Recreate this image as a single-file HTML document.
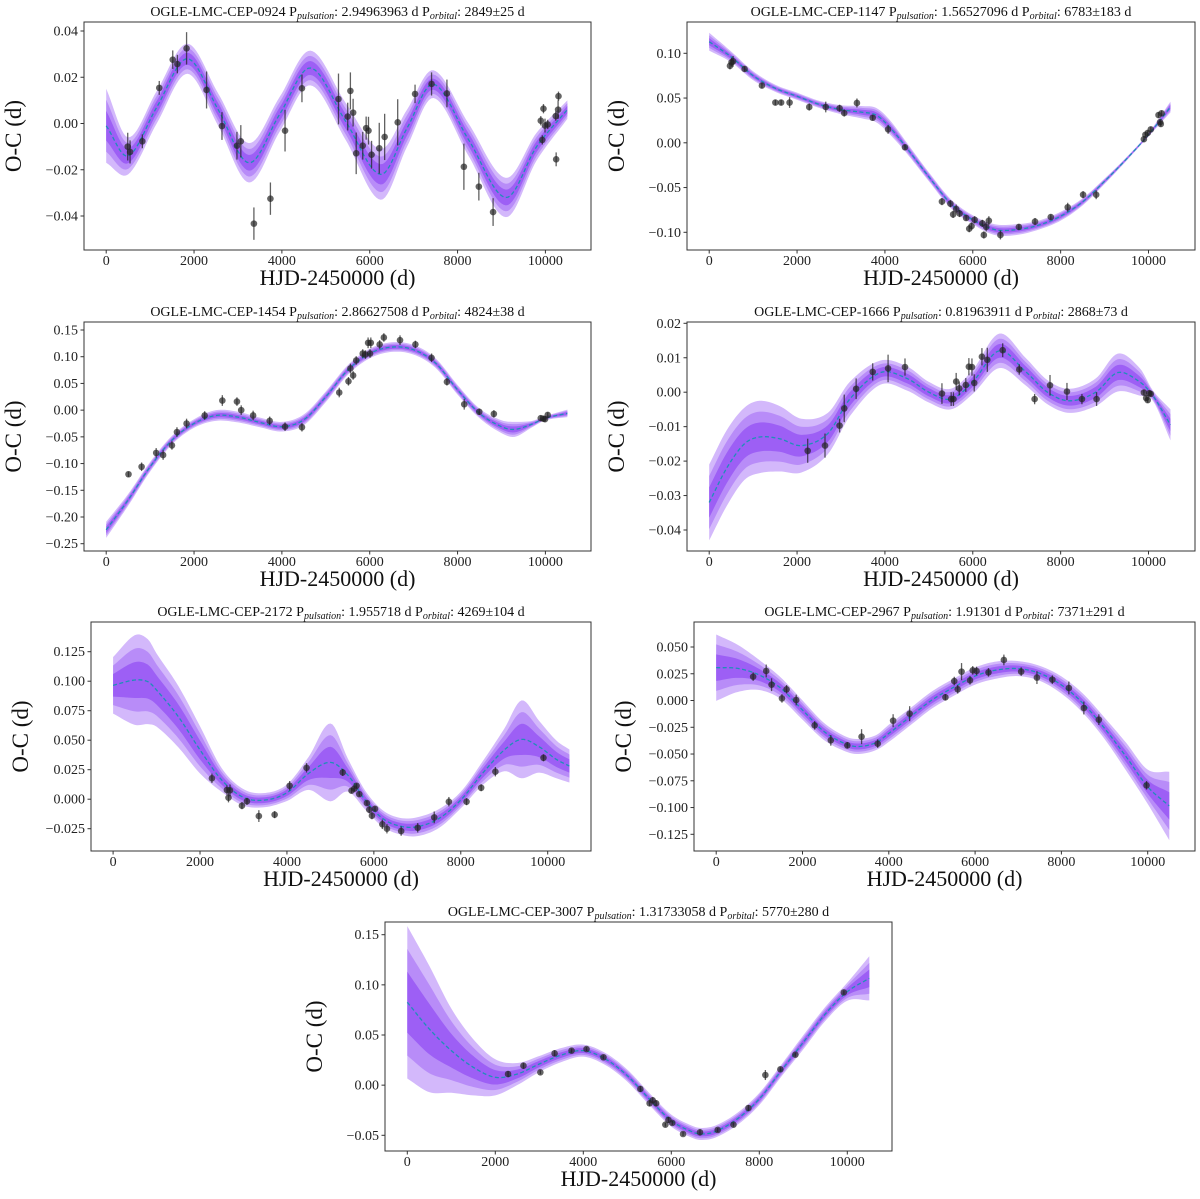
<!DOCTYPE html>
<html><head><meta charset="utf-8">
<style>
html,body{margin:0;padding:0;background:#fff;}
svg{display:block;font-family:"Liberation Serif","DejaVu Serif",serif;}
</style></head>
<body>
<svg id="fig" width="1200" height="1199" viewBox="0 0 1200 1199" xmlns="http://www.w3.org/2000/svg"></svg>
<script>
const xTicks = [0, 2000, 4000, 6000, 8000, 10000];

// Panel 1: OGLE-LMC-CEP-0924
const p1_knotX = [0,500,1150,1850,2550,3250,3950,4650,5450,6250,6850,7450,8250,9100,9800,10500];
const p1_knotY = [-0.001,-0.014,0.007,0.028,0.006,-0.017,0.004,0.024,0.001,-0.022,-0.002,0.017,-0.007,-0.032,-0.010,0.006];
const p1_bandW = [0.016,0.008,0.007,0.0065,0.007,0.0085,0.0075,0.0075,0.008,0.011,0.008,0.006,0.007,0.0085,0.006,0.004];
const p1_ptX = [490,543,823,1208,1515,1620,1830,2285,2636,2977,3065,3363,3739,4072,4457,5289,5499,5560,5622,5692,5841,5919,5972,6042,6217,6340,6637,7032,7408,7758,8144,8485,8809,9895,9956,9930,9991,10053,10236,10245,10289,10298];
const p1_ptY = [-0.010,-0.0123,-0.0077,0.0154,0.0276,0.0257,0.0325,0.0145,-0.0011,-0.0096,-0.0077,-0.0433,-0.0325,-0.0031,0.0152,0.0106,0.0030,0.0141,0.0047,-0.0129,-0.0096,-0.0020,-0.0031,-0.0135,-0.0107,-0.0058,0.0005,0.0128,0.0171,0.0130,-0.0187,-0.0273,-0.0383,0.0012,0.0064,-0.0071,-0.0009,-0.0004,0.0032,-0.0155,0.0060,0.0118];
const p1_ptErr = [0.006,0.005,0.003,0.003,0.004,0.004,0.007,0.008,0.006,0.006,0.007,0.007,0.007,0.009,0.006,0.011,0.006,0.008,0.006,0.009,0.006,0.005,0.006,0.006,0.011,0.010,0.010,0.004,0.005,0.006,0.010,0.006,0.006,0.002,0.002,0.002,0.003,0.002,0.002,0.003,0.004,0.002];
const p1_yTicks = [-0.04,-0.02,0.00,0.02,0.04];

// Panel 2: OGLE-LMC-CEP-1147
const p2_knotX = [0,500,1000,1500,2000,2500,3000,3500,3800,4100,4500,5000,5500,6000,6500,7000,7500,8000,8500,9000,9500,10000,10500];
const p2_knotY = [0.113,0.096,0.075,0.061,0.052,0.043,0.037,0.034,0.031,0.018,-0.006,-0.038,-0.068,-0.086,-0.097,-0.097,-0.092,-0.082,-0.066,-0.043,-0.018,0.009,0.040];
const p2_bandW = [0.010,0.006,0.005,0.004,0.004,0.004,0.005,0.007,0.008,0.008,0.006,0.005,0.005,0.005,0.006,0.006,0.005,0.005,0.004,0.003,0.002,0.002,0.006];
const p2_ptX = [473,508,543,806,1200,1506,1637,1830,2277,2653,2968,3074,3363,3722,4072,4457,5298,5490,5552,5622,5700,5849,5919,5972,6042,6217,6252,6305,6366,6629,7049,7417,7776,8161,8511,8809,9895,9930,9982,10053,10228,10263,10298,10280];
const p2_ptY = [0.086,0.090,0.091,0.0825,0.064,0.045,0.045,0.045,0.040,0.040,0.0386,0.0333,0.0445,0.028,0.015,-0.005,-0.0657,-0.068,-0.080,-0.074,-0.079,-0.084,-0.096,-0.093,-0.086,-0.090,-0.103,-0.094,-0.087,-0.103,-0.094,-0.088,-0.083,-0.072,-0.058,-0.058,0.004,0.009,0.011,0.015,0.031,0.023,0.033,0.021];
const p2_ptErr = [0.004,0.005,0.006,0.003,0.003,0.003,0.003,0.006,0.004,0.006,0.004,0.004,0.005,0.003,0.005,0.003,0.004,0.004,0.004,0.005,0.004,0.003,0.004,0.004,0.004,0.004,0.004,0.005,0.005,0.005,0.003,0.004,0.003,0.005,0.004,0.005,0.003,0.003,0.003,0.003,0.003,0.003,0.003,0.003];
const p2_yTicks = [-0.10,-0.05,0.00,0.05,0.10];

// Panel 3: OGLE-LMC-CEP-1454
const p3_knotX = [0,500,1000,1500,2000,2500,3000,3500,4000,4500,5000,5500,6000,6500,7000,7500,8000,8500,9000,9300,9700,10000,10500];
const p3_knotY = [-0.224,-0.168,-0.106,-0.056,-0.025,-0.010,-0.013,-0.023,-0.031,-0.018,0.025,0.075,0.106,0.118,0.113,0.088,0.038,-0.006,-0.031,-0.036,-0.026,-0.015,-0.006];
const p3_bandW = [0.015,0.011,0.009,0.008,0.008,0.010,0.010,0.009,0.009,0.010,0.010,0.009,0.009,0.009,0.009,0.009,0.009,0.009,0.012,0.014,0.006,0.004,0.007];
const p3_ptX = [508,806,1138,1296,1497,1611,1830,2242,2644,2977,3074,3345,3722,4072,4457,5306,5516,5560,5622,5692,5841,5902,5963,6025,6007,6226,6322,6690,7040,7408,7758,8152,8494,8827,9895,9956,9991,10053];
const p3_ptY = [-0.120,-0.106,-0.080,-0.084,-0.066,-0.041,-0.025,-0.010,0.018,0.016,0.000,-0.010,-0.020,-0.031,-0.032,0.033,0.054,0.078,0.065,0.093,0.106,0.104,0.126,0.126,0.106,0.123,0.136,0.131,0.123,0.098,0.053,0.011,-0.003,-0.007,-0.015,-0.016,-0.017,-0.009];
const p3_ptErr = [0.005,0.008,0.009,0.009,0.008,0.009,0.009,0.008,0.010,0.008,0.009,0.009,0.008,0.008,0.008,0.009,0.008,0.009,0.008,0.008,0.008,0.008,0.010,0.010,0.008,0.008,0.008,0.009,0.007,0.008,0.007,0.010,0.006,0.007,0.005,0.005,0.005,0.005];
const p3_yTicks = [-0.25,-0.20,-0.15,-0.10,-0.05,0.00,0.05,0.10,0.15];

// Panel 4: OGLE-LMC-CEP-1666
const p4_knotX = [0,400,800,1150,1600,2100,2700,3200,3900,4500,5000,5500,6000,6600,7200,7700,8200,8800,9300,9800,10100,10500];
const p4_knotY = [-0.032,-0.022,-0.015,-0.013,-0.0135,-0.0155,-0.012,-0.002,0.0057,0.004,0.0,-0.002,0.003,0.012,0.006,0.000,-0.0025,0.000,0.0057,0.003,-0.001,-0.0095];
const p4_bandW = [0.011,0.011,0.0105,0.0105,0.0095,0.0078,0.006,0.005,0.0035,0.0035,0.003,0.003,0.0035,0.005,0.004,0.0035,0.0035,0.004,0.0055,0.004,0.0015,0.0045];
const p4_ptX = [2242,2636,2968,3074,3345,3722,4072,4457,5298,5508,5560,5622,5692,5841,5911,5981,6033,6208,6331,6681,7058,7408,7758,8144,8485,8818,9895,9947,9982,10018,10053];
const p4_ptY = [-0.0170,-0.0155,-0.0097,-0.0047,0.0010,0.0059,0.0069,0.0073,-0.0004,-0.0020,-0.0020,0.0031,0.0011,0.0021,0.0074,0.0073,0.0027,0.0103,0.0094,0.0122,0.0066,-0.0020,0.0020,0.0002,-0.0020,-0.0020,-0.0001,-0.0017,-0.0023,-0.0003,-0.0005];
const p4_ptErr = [0.0035,0.0035,0.002,0.004,0.003,0.0025,0.004,0.0025,0.003,0.002,0.002,0.0025,0.002,0.002,0.0025,0.0025,0.0025,0.0025,0.0035,0.002,0.0015,0.0015,0.003,0.0025,0.0015,0.002,0.0008,0.0008,0.0008,0.0008,0.0008];
const p4_yTicks = [-0.04,-0.03,-0.02,-0.01,0.00,0.01,0.02];

// Panel 5: OGLE-LMC-CEP-2172
const p5_knotX = [0,500,800,1000,1500,2000,2500,3000,3500,4000,4500,5000,5400,5800,6200,6600,7000,7500,8000,8500,9000,9400,9800,10200,10500];
const p5_knotY = [0.0965,0.101,0.0996,0.0925,0.070,0.0418,0.0162,0.0015,-0.0007,0.0055,0.0219,0.0312,0.0205,-0.0007,-0.0163,-0.0228,-0.0233,-0.0163,-0.0007,0.0219,0.0417,0.0507,0.0445,0.0337,0.0281];
const p5_bandW = [0.024,0.038,0.036,0.031,0.026,0.020,0.010,0.007,0.006,0.007,0.014,0.033,0.014,0.008,0.007,0.007,0.008,0.008,0.007,0.010,0.018,0.033,0.022,0.016,0.014];
const p5_ptX = [2274,2619,2655,2690,2965,3080,3354,3717,4062,4451,5283,5487,5549,5602,5664,5841,5894,5956,6027,6195,6301,6628,7009,7389,7726,8133,8469,8796,9903];
const p5_ptY = [0.0177,0.0078,0.0013,0.0075,-0.0055,-0.0018,-0.0143,-0.0131,0.0114,0.0266,0.0227,0.0072,0.0089,0.0114,0.0043,-0.0033,-0.0089,-0.0140,-0.0081,-0.0213,-0.025,-0.027,-0.0242,-0.0154,-0.0021,-0.0021,0.0097,0.0233,0.0351];
const p5_ptErr = [0.004,0.004,0.004,0.005,0.003,0.003,0.005,0.003,0.004,0.004,0.003,0.002,0.002,0.002,0.002,0.002,0.003,0.003,0.002,0.004,0.004,0.004,0.004,0.005,0.004,0.003,0.003,0.004,0.003];
const p5_yTicks = [-0.025,0.000,0.025,0.050,0.075,0.100,0.125];

// Panel 6: OGLE-LMC-CEP-2967
const p6_knotX = [0,500,1000,1500,2000,2500,3000,3300,3700,4000,4500,5000,5500,6000,6500,7000,7500,8000,8500,9000,9500,10000,10500];
const p6_knotY = [0.0307,0.030,0.0238,0.0114,-0.0089,-0.029,-0.0406,-0.043,-0.0394,-0.0307,-0.0151,0.0005,0.0123,0.0229,0.0285,0.0298,0.0254,0.0145,-0.0026,-0.026,-0.0525,-0.0806,-0.0985];
const p6_bandW = [0.031,0.022,0.014,0.010,0.009,0.008,0.007,0.007,0.007,0.008,0.008,0.008,0.008,0.008,0.008,0.007,0.007,0.008,0.009,0.010,0.013,0.016,0.032];
const p6_ptX = [856,1159,1283,1524,1631,1854,2282,2656,3039,3369,3743,4100,4483,5312,5517,5597,5686,5882,5945,6034,6310,6667,7068,7433,7790,8173,8520,8868,9973];
const p6_ptY = [0.0223,0.0276,0.0148,0.0020,0.0105,0.0005,-0.0232,-0.0372,-0.0419,-0.0338,-0.0403,-0.0188,-0.0123,0.0030,0.0182,0.0105,0.0270,0.0189,0.0282,0.0276,0.0263,0.0379,0.0270,0.0214,0.0195,0.0117,-0.0070,-0.0179,-0.0792];
const p6_ptErr = [0.004,0.006,0.006,0.004,0.004,0.005,0.004,0.005,0.003,0.007,0.004,0.006,0.007,0.003,0.004,0.004,0.008,0.004,0.004,0.004,0.004,0.005,0.004,0.006,0.004,0.006,0.006,0.005,0.004];
const p6_yTicks = [-0.125,-0.100,-0.075,-0.050,-0.025,0.000,0.025,0.050];

// Panel 7: OGLE-LMC-CEP-3007
const p7_knotX = [0,500,1000,1500,2000,2500,3000,3500,4000,4500,5000,5500,6000,6500,6700,7000,7500,8000,8500,9000,9500,10000,10500];
const p7_knotY = [0.0826,0.056,0.0344,0.0178,0.0078,0.0111,0.0211,0.030,0.0344,0.0261,0.0095,-0.0138,-0.0354,-0.047,-0.0487,-0.0463,-0.0337,-0.0138,0.0145,0.0427,0.071,0.0932,0.1065];
const p7_bandW = [0.076,0.063,0.042,0.028,0.018,0.011,0.008,0.007,0.006,0.006,0.006,0.006,0.006,0.006,0.006,0.006,0.006,0.006,0.006,0.007,0.007,0.009,0.022];
const p7_ptX = [2290,2640,3024,3348,3733,4073,4458,5297,5507,5577,5656,5865,5935,6023,6267,6652,7054,7413,7753,8138,8479,8820,9921];
const p7_ptY = [0.0111,0.0194,0.0128,0.0317,0.0344,0.036,0.0278,-0.0038,-0.0181,-0.0151,-0.0181,-0.0394,-0.0347,-0.0377,-0.0487,-0.047,-0.0447,-0.0394,-0.0228,0.0101,0.0158,0.0304,0.0925];
const p7_ptErr = [0.003,0.003,0.002,0.003,0.002,0.002,0.002,0.003,0.003,0.003,0.003,0.002,0.003,0.002,0.002,0.003,0.002,0.002,0.003,0.005,0.002,0.002,0.002];
const p7_yTicks = [-0.05,0.00,0.05,0.10,0.15];

const panels = [
 {name:'0924', ppul:'2.94963963', porb:'2849±25', L:84,R:591,T:22,B:250, x0:106.2,x1:545.4, yv0:-0.04,yp0:216,yv1:0.04,yp1:31, dec:2, kx:p1_knotX,ky:p1_knotY,bw:p1_bandW,px:p1_ptX,py:p1_ptY,pe:p1_ptErr,yt:p1_yTicks},
 {name:'1147', ppul:'1.56527096', porb:'6783±183', L:687,R:1195,T:22,B:250, x0:709.2,x1:1148.5, yv0:-0.10,yp0:232.3,yv1:0.10,yp1:53.3, dec:2, kx:p2_knotX,ky:p2_knotY,bw:p2_bandW,px:p2_ptX,py:p2_ptY,pe:p2_ptErr,yt:p2_yTicks},
 {name:'1454', ppul:'2.86627508', porb:'4824±38', L:84,R:591,T:322,B:551, x0:106.2,x1:545.4, yv0:-0.25,yp0:543.7,yv1:0.15,yp1:330, dec:2, kx:p3_knotX,ky:p3_knotY,bw:p3_bandW,px:p3_ptX,py:p3_ptY,pe:p3_ptErr,yt:p3_yTicks},
 {name:'1666', ppul:'0.81963911', porb:'2868±73', L:687,R:1195,T:322,B:551, x0:709.2,x1:1148.5, yv0:-0.04,yp0:530,yv1:0.02,yp1:323.3, dec:2, kx:p4_knotX,ky:p4_knotY,bw:p4_bandW,px:p4_ptX,py:p4_ptY,pe:p4_ptErr,yt:p4_yTicks},
 {name:'2172', ppul:'1.955718', porb:'4269±104', L:91,R:591,T:622,B:851, x0:113.1,x1:547.7, yv0:-0.025,yp0:828.7,yv1:0.125,yp1:651.7, dec:3, kx:p5_knotX,ky:p5_knotY,bw:p5_bandW,px:p5_ptX,py:p5_ptY,pe:p5_ptErr,yt:p5_yTicks},
 {name:'2967', ppul:'1.91301', porb:'7371±291', L:694,R:1195,T:622,B:851, x0:716.2,x1:1147.7, yv0:-0.125,yp0:834.3,yv1:0.05,yp1:647, dec:3, kx:p6_knotX,ky:p6_knotY,bw:p6_bandW,px:p6_ptX,py:p6_ptY,pe:p6_ptErr,yt:p6_yTicks},
 {name:'3007', ppul:'1.31733058', porb:'5770±280', L:385,R:892,T:922,B:1151, x0:407.3,x1:847.3, yv0:-0.05,yp0:1135.3,yv1:0.15,yp1:934.7, dec:2, kx:p7_knotX,ky:p7_knotY,bw:p7_bandW,px:p7_ptX,py:p7_ptY,pe:p7_ptErr,yt:p7_yTicks}
];

const NS = 'http://www.w3.org/2000/svg';
const fig = document.getElementById('fig');
function mk(tag, attrs, parent){
  const e = document.createElementNS(NS, tag);
  for (const k in attrs) e.setAttribute(k, attrs[k]);
  parent.appendChild(e);
  return e;
}
function interp(xs, ys, x){
  const n = xs.length;
  if (x <= xs[0]) return ys[0];
  if (x >= xs[n-1]) return ys[n-1];
  let i = 0;
  while (i < n-2 && x > xs[i+1]) i++;
  const slope = j => {
    if (j === 0) return (ys[1]-ys[0])/(xs[1]-xs[0]);
    if (j === n-1) return (ys[n-1]-ys[n-2])/(xs[n-1]-xs[n-2]);
    return (ys[j+1]-ys[j-1])/(xs[j+1]-xs[j-1]);
  };
  const h = xs[i+1]-xs[i], t = (x-xs[i])/h;
  const m0 = slope(i)*h, m1 = slope(i+1)*h;
  const t2=t*t, t3=t2*t;
  return (2*t3-3*t2+1)*ys[i] + (t3-2*t2+t)*m0 + (-2*t3+3*t2)*ys[i+1] + (t3-t2)*m1;
}
function fmt(v, dec){
  const s = Math.abs(v).toFixed(dec);
  return (v < -1e-9 ? '\u2212' : '') + s;
}

panels.forEach((p, idx) => {
  const g = mk('g', {}, fig);
  
  
  const sx = v => p.x0 + (v/10000)*(p.x1-p.x0);
  const sy = v => p.yp0 + (v-p.yv0)*(p.yp1-p.yp0)/(p.yv1-p.yv0);
  const clipId = 'clip' + idx;
  const cp = mk('clipPath', {id: clipId}, g);
  mk('rect', {x:p.L, y:p.T, width:p.R-p.L, height:p.B-p.T}, cp);
  const plot = mk('g', {'clip-path':'url(#'+clipId+')'}, g);

  const fr = [1.0, 0.7, 0.4];
  const cols = ['#d3b8fb', '#b88cf8', '#9d5ff5'];
  const bandNames = ['band-3sigma', 'band-2sigma', 'band-1sigma'];
  fr.forEach((f, k) => {
    let up = [], lo = [];
    for (let x = 0; x <= 10500; x += 50){
      const c = interp(p.kx, p.ky, x), w = interp(p.kx, p.bw, x)*f;
      up.push(sx(x).toFixed(2)+','+sy(c+w).toFixed(2));
      lo.push(sx(x).toFixed(2)+','+sy(c-w).toFixed(2));
    }
    const poly = mk('polygon', {points: up.concat(lo.reverse()).join(' '), fill: cols[k], stroke:'none'}, plot);
    
    
  });
  let pts = [];
  for (let x = 0; x <= 10500; x += 50) pts.push(sx(x).toFixed(2)+','+sy(interp(p.kx,p.ky,x)).toFixed(2));
  const line = mk('polyline', {points: pts.join(' '), fill:'none', stroke:'#1f8fb8', 'stroke-width':1.3, 'stroke-dasharray':'4,2.5'}, plot);
  
  
  for (let i = 0; i < p.px.length; i++){
    const cx = sx(p.px[i]), cy = sy(p.py[i]);
    const eb = mk('line', {x1:cx, x2:cx, y1:sy(p.py[i]-p.pe[i]), y2:sy(p.py[i]+p.pe[i]), stroke:'rgba(30,30,30,0.7)', 'stroke-width':1.3}, plot);
    
    
    const c = mk('circle', {cx:cx, cy:cy, r:3.3, fill:'rgba(35,35,35,0.7)'}, plot);
    
    
  }
  const fr2 = mk('rect', {x:p.L, y:p.T, width:p.R-p.L, height:p.B-p.T, fill:'none', stroke:'#333', 'stroke-width':1}, g);
  
  
  xTicks.forEach(t => {
    const x = sx(t);
    mk('line', {x1:x, x2:x, y1:p.B, y2:p.B+3.5, stroke:'#333', 'stroke-width':1}, g);
    const tx = mk('text', {x:x, y:p.B+15, 'font-size':14, 'text-anchor':'middle', fill:'#222'}, g);
    tx.textContent = String(t);
    
    
  });
  p.yt.forEach(t => {
    const y = sy(t);
    mk('line', {x1:p.L-3.5, x2:p.L, y1:y, y2:y, stroke:'#333', 'stroke-width':1}, g);
    const ty = mk('text', {x:p.L-6, y:y+4.5, 'font-size':14, 'text-anchor':'end', fill:'#222'}, g);
    ty.textContent = fmt(t, p.dec);
    
    
  });
  const xl = mk('text', {x:(p.L+p.R)/2, y:p.B+35, 'font-size':22, 'text-anchor':'middle', fill:'#111'}, g);
  xl.textContent = 'HJD-2450000 (d)';
  
  
  const ycx = p.L - 63, ycy = (p.T+p.B)/2;
  const yl = mk('text', {x:ycx, y:ycy, 'font-size':23, 'text-anchor':'middle', fill:'#111', transform:'rotate(-90 '+ycx+' '+ycy+')'}, g);
  yl.textContent = 'O-C (d)';
  
  
  const tt = mk('text', {x:(p.L+p.R)/2, y:p.T-6, 'font-size':14, 'text-anchor':'middle', fill:'#111'}, g);
  
  
  const parts = [
    ['OGLE-LMC-CEP-' + p.name + ' P', null],
    ['pulsation', 'sub'],
    [': ' + p.ppul + ' d P', null],
    ['orbital', 'sub'],
    [': ' + p.porb + ' d', null]
  ];
  parts.forEach(([s, kind]) => {
    const ts = mk('tspan', {}, tt);
    if (kind === 'sub'){
      ts.setAttribute('font-size', '10');
      ts.setAttribute('font-style', 'italic');
      ts.setAttribute('dy', '3');
    } else if (s.startsWith(':')){
      ts.setAttribute('dy', '-3');
    }
    ts.textContent = s;
  });
});
</script>
</body></html>
